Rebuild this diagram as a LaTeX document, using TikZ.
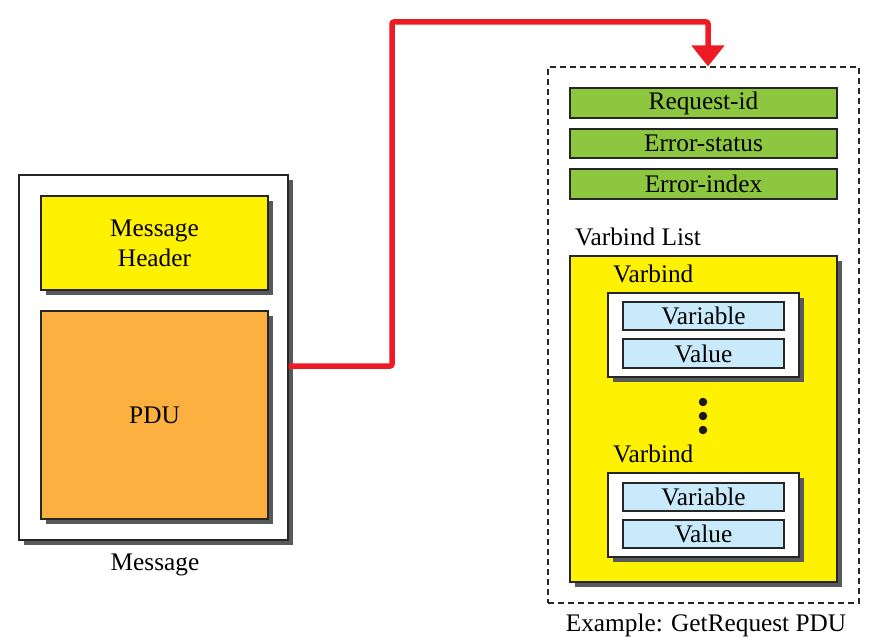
\documentclass[tikz,border=0pt]{standalone}
\usepackage{fontspec}
\setmainfont{Liberation Serif}
\usetikzlibrary{arrows.meta,shadows}
\definecolor{hdryellow}{HTML}{FFF200}
\definecolor{pduorange}{HTML}{FBB040}
\definecolor{fldgreen}{HTML}{8DC63F}
\definecolor{varblue}{HTML}{C8EAFB}
\definecolor{arrred}{HTML}{ED1C24}
\definecolor{shadowgrey}{HTML}{58595B}
\tikzset{
  box/.style={draw=black!85, line width=1.3pt, rectangle, inner sep=0pt, align=center,
    font=\fontsize{25.3}{30}\selectfont},
  sbox/.style={box, drop shadow={shadow xshift=5pt, shadow yshift=-5pt, fill=shadowgrey, opacity=1}},
  lbl/.style={inner sep=0pt, font=\fontsize{25.3}{30}\selectfont},
  dot/.style={circle, fill=black!90, inner sep=0pt, minimum size=8.5pt},
}
\begin{document}
\begin{tikzpicture}[x=1pt,y=-1pt]
\useasboundingbox (0,0) rectangle (883,644);
% left: message
\node[sbox, fill=white, minimum width=269pt, minimum height=365pt] (msg) at (153.5,357.5) {};
\node[sbox, fill=hdryellow, minimum width=227pt, minimum height=94pt] (hdr) at (154.5,243) {Message\\Header};
\node[sbox, fill=pduorange, minimum width=227pt, minimum height=208pt] (pdu) at (154.5,415) {PDU};
\node[lbl] (msglbl) at (155,565) {Message};
% right: GetRequest PDU
\node[draw=black!85, line width=1.2pt, dash pattern=on 6pt off 4pt, minimum width=311pt, minimum height=536pt, inner sep=0pt] (dash) at (703.5,335) {};
\node[box, fill=fldgreen, minimum width=267pt, minimum height=30pt] (reqid) at (703.5,103) {Request-id};
\node[box, fill=fldgreen, minimum width=267pt, minimum height=29pt] (errst) at (703.5,143.5) {Error-status};
\node[box, fill=fldgreen, minimum width=267pt, minimum height=30pt] (errix) at (703.5,184) {Error-index};
\node[lbl, anchor=west] (vlist) at (575,237) {Varbind List};
\node[sbox, fill=hdryellow, minimum width=267pt, minimum height=326pt] (vbl) at (703.5,419) {};
\node[lbl, anchor=west] (vb1lbl) at (613,274) {Varbind};
\node[sbox, fill=white, minimum width=191pt, minimum height=84pt] (vb1) at (703.5,335) {};
\node[box, fill=varblue, minimum width=161pt, minimum height=28pt] (var1) at (703.5,316) {Variable};
\node[box, fill=varblue, minimum width=161pt, minimum height=29pt] (val1) at (703.5,353.5) {Value};
\node[dot] (d1) at (703,402) {};
\node[dot] (d2) at (703,416) {};
\node[dot] (d3) at (703,430) {};
\node[lbl, anchor=west] (vb2lbl) at (613,454) {Varbind};
\node[sbox, fill=white, minimum width=191pt, minimum height=84pt] (vb2) at (703.5,515) {};
\node[box, fill=varblue, minimum width=161pt, minimum height=28pt] (var2) at (703.5,497) {Variable};
\node[box, fill=varblue, minimum width=161pt, minimum height=28pt] (val2) at (703.5,534) {Value};
\node[lbl] (exlbl) at (706,625) {Example: GetRequest PDU};
% arrow
\coordinate (bend) at (392,22);
\draw[arrred, line width=5.5pt, rounded corners=2pt, -{Triangle[width=32pt,length=21pt]}]
  ([yshift=-8.5pt]msg.east) -| (bend) -| ([xshift=4.5pt]dash.north);
\end{tikzpicture}
\end{document}
